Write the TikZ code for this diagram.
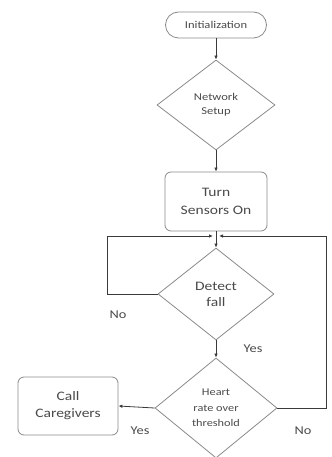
\documentclass[tikz,border=0pt]{standalone}
\usepackage{fontspec}
\setmainfont[FakeStretch=1.2]{Carlito}
\usetikzlibrary{shapes.geometric,arrows.meta}
\definecolor{boxline}{HTML}{8A8A8A}
\definecolor{txt}{HTML}{4A4A4A}
\definecolor{conn}{HTML}{3A3A3A}
\begin{document}
\begin{tikzpicture}[x=1bp,y=-1bp,
  box/.style={draw=boxline, line width=0.8bp, rounded corners=6bp, text=txt, align=center, inner sep=1bp},
  dia/.style={draw=boxline, line width=0.8bp, diamond, text=txt, align=center, inner sep=0pt},
  conn/.style={draw=conn, line width=0.8bp},
  arr/.style={conn, -{Latex[length=4bp,width=3.5bp]}},
  lbl/.style={text=txt, font=\fontsize{12}{13}\selectfont}
]
\useasboundingbox (0,0) rectangle (331,457);
\begin{scope}
\clip (0,0) rectangle (331,457);
\node[box, rounded corners=13bp, minimum width=101bp, minimum height=26bp, font=\fontsize{10.5}{12}\selectfont] (init) at (216,25) {Initialization};
\node[dia, minimum width=118bp, minimum height=90bp, font=\fontsize{10.5}{14}\selectfont] (net) at (216,105) {Network\\Setup};
\node[box, minimum width=102bp, minimum height=59bp, font=\fontsize{13}{18}\selectfont] (turn) at (216,201.5) {Turn\\Sensors On};
\node[dia, minimum width=116bp, minimum height=92bp, font=\fontsize{13}{16}\selectfont] (detect) at (216,294) {Detect\\fall};
\node[dia, minimum width=122bp, minimum height=100bp, font=\fontsize{10.3}{15.5}\selectfont] (heart) at (216,408) {Heart\\rate over\\threshold};
\node[box, minimum width=100bp, minimum height=58bp, font=\fontsize{13}{17}\selectfont] (call) at (68,406) {Call\\Caregivers};
\coordinate (j) at (216,236);
\coordinate (lj) at (213,236);
\coordinate (rj) at (219,236);
\coordinate (lc) at (107,294);
\coordinate (rc) at (326,408);

\draw[arr] (init) -- (net);
\draw[arr] (net) -- (turn);
\draw[conn] (turn.south) -- (j);
\draw[arr] (j) -- (detect.north);
\draw[arr] (detect.west) -- (lc) |- (lj);
\draw[arr] (detect) -- (heart);
\draw[arr] (heart.west) -- (call.east);
\draw[arr] (heart.east) -- (rc) |- (rj);
\end{scope}
\node[lbl] (no1) at (118,315) {No};
\node[lbl] (yes1) at (253,349) {Yes};
\node[lbl] (yes2) at (140,431) {Yes};
\node[lbl] (no2) at (303,431) {No};
\end{tikzpicture}
\end{document}
